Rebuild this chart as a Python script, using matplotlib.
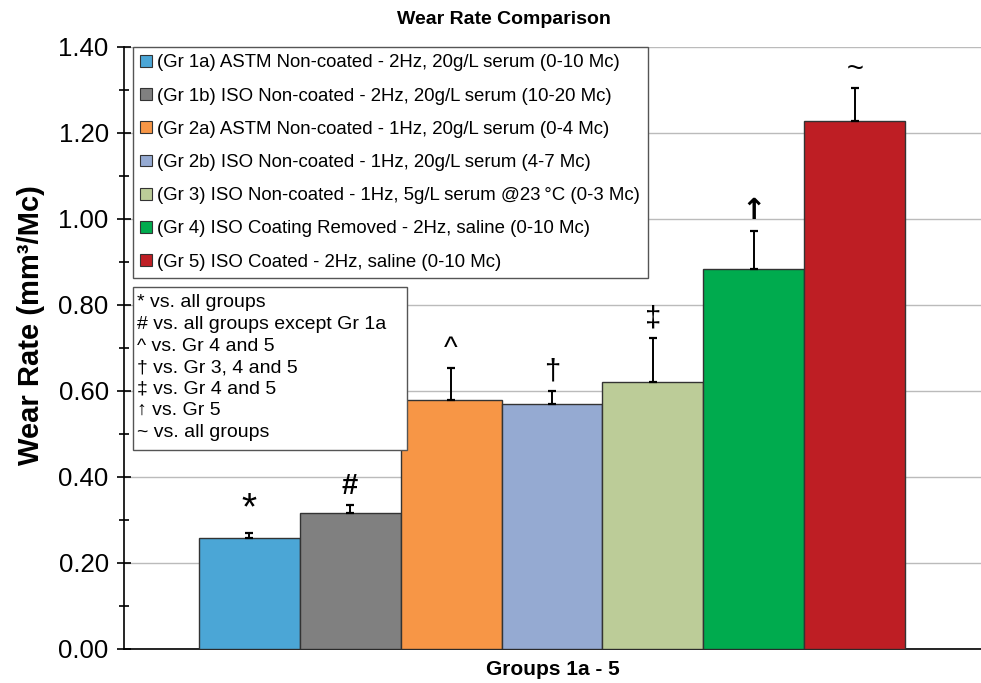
import matplotlib
matplotlib.use("Agg")
import matplotlib.pyplot as plt
from matplotlib.patches import Patch, Rectangle
from matplotlib.ticker import MultipleLocator

plt.rcParams['font.family'] = ['Liberation Sans', 'DejaVu Sans']

# datos
grupos = [
    '(Gr 1a) ASTM Non-coated - 2Hz, 20g/L serum (0-10 Mc)',
    '(Gr 1b) ISO Non-coated - 2Hz, 20g/L serum (10-20 Mc)',
    '(Gr 2a) ASTM Non-coated - 1Hz, 20g/L serum (0-4 Mc)',
    '(Gr 2b) ISO Non-coated - 1Hz, 20g/L serum (4-7 Mc)',
    '(Gr 3) ISO Non-coated - 1Hz, 5g/L serum @23\u2009°C (0-3 Mc)',
    '(Gr 4) ISO Coating Removed - 2Hz, saline (0-10 Mc)',
    '(Gr 5) ISO Coated - 2Hz, saline (0-10 Mc)',
]
wear_rate = [0.257, 0.316, 0.580, 0.569, 0.622, 0.884, 1.228]
desv = [0.012, 0.018, 0.073, 0.032, 0.101, 0.088, 0.076]
marcas = ['*', '#', '^', '†', '‡', '↑', '~']
colores = ['#4BA6D6', '#808080', '#F79646', '#95AAD2', '#BCCC98', '#00AB4E', '#BE1E24']
notas = [
    '* vs. all groups',
    '# vs. all groups except Gr 1a',
    '^ vs. Gr 4 and 5',
    '† vs. Gr 3, 4 and 5',
    '‡ vs. Gr 4 and 5',
    '↑ vs. Gr 5',
    '~ vs. all groups',
]

fig = plt.figure(figsize=(9.81, 6.83), dpi=100)
ax = fig.add_axes([124 / 981, 34 / 683, 857 / 981, 602 / 683])

x = list(range(len(wear_rate)))
ax.bar(x, wear_rate, width=1.0, color=colores, edgecolor='#333333', linewidth=1.0, zorder=3)
ax.errorbar(x, wear_rate, yerr=[[0] * len(desv), desv], fmt='none', ecolor='black',
            elinewidth=1.4, capsize=3, capthick=1.6, zorder=4)

# simbolos de significancia
for xi, v, d, m in zip(x, wear_rate, desv, marcas):
    ax.annotate(m, (xi, v + d), xytext=(0, 4), textcoords='offset points',
                ha='center', va='bottom', fontsize=28 if m == '*' else 21, color='black',
                fontweight='bold' if m in '↑#' else 'normal',
                family=['DejaVu Sans'] if m == '↑' else None)

ax.set_xlim(-1.24, 7.25)
ax.set_ylim(0, 1.40)
ax.yaxis.set_major_locator(MultipleLocator(0.2))
ax.yaxis.set_minor_locator(MultipleLocator(0.1))
ax.yaxis.set_major_formatter(matplotlib.ticker.FormatStrFormatter('%.2f'))
ax.grid(axis='y', color='#BBBBBB', linewidth=1.0, zorder=0)
ax.set_xticks([])
ax.tick_params(axis='y', which='major', direction='inout', length=10, width=1.2, labelsize=18.5, pad=6)
ax.tick_params(axis='y', which='minor', direction='inout', length=7, width=1.2)
for s in ['top', 'right']:
    ax.spines[s].set_visible(False)
ax.spines['left'].set_linewidth(1.2)
ax.spines['bottom'].set_linewidth(1.2)

ax.set_ylabel('Wear Rate (mm³/Mc)', fontsize=21, fontweight='bold')
ax.yaxis.set_label_coords(-0.092, 0.538)
ax.set_xlabel('Groups 1a - 5', fontsize=15, fontweight='bold', labelpad=8)
fig.text(504 / 981, 1 - 20 / 683, 'Wear Rate Comparison', ha='center', va='center',
         fontsize=14, fontweight='bold')

handles = [Patch(facecolor=c, edgecolor='#333333', linewidth=0.8) for c in colores]
leg = ax.legend(handles, grupos, loc='upper left', bbox_to_anchor=(0.0105, 1.0),
                borderaxespad=0, fontsize=13.4, handlelength=0.6, handleheight=0.6,
                handletextpad=0.3, labelspacing=0.87, borderpad=0.4, fancybox=False,
                framealpha=1, edgecolor='#555555')
leg.get_frame().set_linewidth(1.0)
leg.set_zorder(5)

# cuadro de notas
ax.add_patch(Rectangle((0.0105, 0.3306), 0.32, 0.2708, transform=ax.transAxes,
                       facecolor='white', edgecolor='#555555', linewidth=1.0, zorder=6))
ax.text(0.0155, 0.589, '\n'.join(notas), transform=ax.transAxes, ha='left', va='top',
        fontsize=14, linespacing=1.35, zorder=7)

fig.savefig('out.png', dpi=100)
